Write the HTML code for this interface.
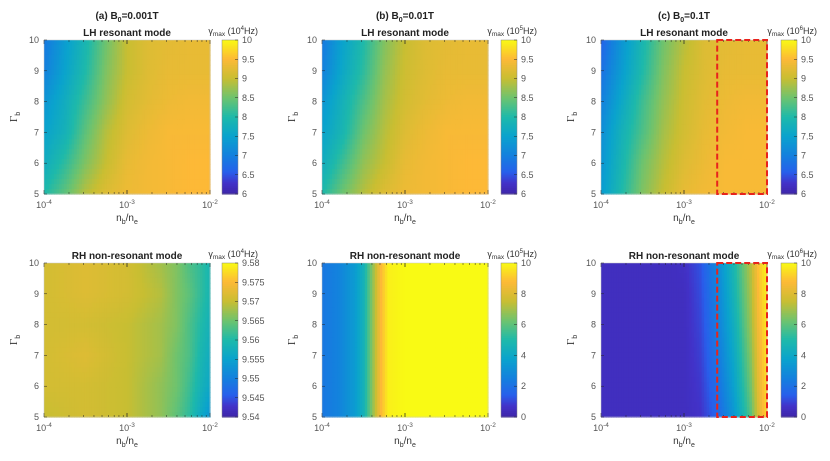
<!DOCTYPE html>
<html><head><meta charset="utf-8">
<style>
html,body{margin:0;padding:0;background:#fff;}
svg{display:block;font-family:"Liberation Sans",Arial,sans-serif;}
</style></head>
<body>
<svg id="fig" width="830" height="461" viewBox="0 0 830 461"></svg>
<script>
// ---- Data ----
const xTickExps = [-4, -3, -2];
const yTicks = [5, 6, 7, 8, 9, 10];
const gammaRows = [10, 9, 8, 7, 6, 5];
const topXs = [-4, -3.75, -3.5, -3.25, -3, -2.75, -2.5, -2.25, -2];
const valsA = [
 [6.9,7.4,7.9,8.5,9.0,9.2,9.25,9.3,9.3],
 [7.0,7.5,8.0,8.6,9.0,9.2,9.3,9.3,9.3],
 [7.3,7.7,8.2,8.7,9.1,9.25,9.35,9.4,9.4],
 [7.5,7.8,8.4,8.9,9.2,9.35,9.45,9.45,9.45],
 [7.7,8.1,8.6,9.0,9.3,9.4,9.45,9.5,9.5],
 [8.0,8.4,8.9,9.2,9.35,9.4,9.45,9.5,9.5]];
const valsB = [
 [6.9,7.5,8.0,8.6,9.0,9.2,9.25,9.3,9.3],
 [7.0,7.6,8.1,8.7,9.05,9.2,9.3,9.3,9.3],
 [7.3,7.8,8.3,8.8,9.1,9.25,9.35,9.4,9.4],
 [7.5,7.9,8.5,8.9,9.2,9.35,9.45,9.45,9.45],
 [7.7,8.2,8.7,9.0,9.3,9.4,9.45,9.5,9.5],
 [8.0,8.5,8.9,9.2,9.35,9.4,9.45,9.5,9.5]];
const valsC = [
 [6.6,7.3,7.9,8.5,8.9,9.2,9.25,9.3,9.3],
 [6.8,7.4,8.0,8.6,9.0,9.2,9.3,9.3,9.3],
 [7.0,7.6,8.2,8.7,9.05,9.25,9.35,9.4,9.4],
 [7.2,7.8,8.3,8.8,9.1,9.3,9.4,9.45,9.45],
 [7.3,7.9,8.5,8.9,9.2,9.35,9.45,9.45,9.45],
 [7.4,8.0,8.6,9.0,9.3,9.4,9.45,9.45,9.45]];
const botAXs = [-4, -3.5, -3, -2.6, -2.4, -2.25, -2.1, -2];
const valsD = [
 [9.571,9.572,9.571,9.568,9.566,9.563,9.561,9.559],
 [9.571,9.572,9.571,9.569,9.566,9.564,9.561,9.559],
 [9.571,9.571,9.570,9.568,9.566,9.563,9.560,9.558],
 [9.571,9.572,9.570,9.568,9.565,9.563,9.559,9.557],
 [9.571,9.571,9.570,9.567,9.565,9.562,9.558,9.556],
 [9.570,9.571,9.570,9.567,9.564,9.561,9.556,9.553]];
const botBXs = [-4, -3.8, -3.6, -3.5, -3.4, -3.3, -3.2, -3, -2];
const rowB = [2.2,2.6,3.5,4.5,6.5,8.6,9.8,10,10];
const valsE = [rowB,rowB,rowB,rowB,rowB,rowB];
const botCXs = [-4, -3.2, -3.0, -2.8, -2.6, -2.4, -2.2, -2.1, -2];
const valsF = [
 [0.5,0.5,0.6,1.2,2.8,4.8,7.2,9.0,9.9],
 [0.5,0.5,0.5,1.1,2.6,4.6,7.0,8.8,9.8],
 [0.5,0.5,0.5,1.0,2.4,4.3,6.8,8.6,9.7],
 [0.5,0.5,0.5,0.9,2.2,4.0,6.5,8.4,9.6],
 [0.5,0.5,0.5,0.8,1.9,3.7,6.2,8.2,9.5],
 [0.5,0.5,0.5,0.7,1.6,3.3,5.8,8.0,9.4]];
const cbTicksTop = [6,6.5,7,7.5,8,8.5,9,9.5,10];
const cbTicksD = [9.54,9.545,9.55,9.555,9.56,9.565,9.57,9.575,9.58];
const cbTicksEF = [0,2,4,6,8,10];

// ---- helpers ----
const NS = "http://www.w3.org/2000/svg";
const svg = document.getElementById('fig');
function mk(tag, attrs, parent){const e=document.createElementNS(NS,tag);for(const k in attrs)e.setAttribute(k,attrs[k]);(parent||svg).appendChild(e);return e;}
const stops=[[0,62,38,168],[.07,66,50,200],[.14,40,95,235],[.25,20,128,222],[.375,10,163,205],[.5,30,185,170],[.625,110,195,110],[.75,200,190,50],[.875,253,185,55],[1,249,250,20]];
function parula(t){t=Math.max(0,Math.min(1,t));for(let i=1;i<stops.length;i++){if(t<=stops[i][0]){const a=stops[i-1],b=stops[i],f=(t-a[0])/(b[0]-a[0]);return `rgb(${Math.round(a[1]+f*(b[1]-a[1]))},${Math.round(a[2]+f*(b[2]-a[2]))},${Math.round(a[3]+f*(b[3]-a[3]))})`;}}return 'rgb(249,250,20)';}
function interp1(xs, row, x){for(let i=1;i<xs.length;i++){if(x<=xs[i]){const f=(x-xs[i-1])/(xs[i]-xs[i-1]);return row[i-1]+f*(row[i]-row[i-1]);}}return row[row.length-1];}
function sampleGrid(xs, grid, x, g){
  let r=0; for(let i=1;i<gammaRows.length;i++){ if(g>=gammaRows[i]){r=i-1;break;} r=i-1;}
  const g0=gammaRows[r], g1=gammaRows[r+1]; const f=(g0-g)/(g0-g1);
  const a=interp1(xs,grid[r],x), b=interp1(xs,grid[r+1],x); return a+f*(b-a);
}
const sup = (b, e) => `<tspan>${b}</tspan><tspan dy="-4" font-size="6.5">${e}</tspan>`;

function panel(o){
  const {x0,y0,w,h,xs,grid,vmin,vmax,cbTicks,cbX,unitExp,name}=o;
  const g=mk('g',{});
  const sx=v=>x0+(v+4)/2*w, sy=v=>y0+(10-v)/5*h;
  const hm=mk('g',{},g);
  
  
  const NX=66, NY=31;
  for(let i=0;i<NX;i++)for(let j=0;j<NY;j++){
    const lx=-4+(i+0.5)/NX*2, gv=10-(j+0.5)/NY*5;
    const v=sampleGrid(xs,grid,lx,gv);
    const c=mk('rect',{x:(x0+i*w/NX).toFixed(2),y:(y0+j*h/NY).toFixed(2),width:(w/NX+0.6).toFixed(2),height:(h/NY+0.6).toFixed(2),fill:parula((v-vmin)/(vmax-vmin))},hm);
    
    
  }
  mk('rect',{x:x0,y:y0,width:w,height:h,fill:'none',stroke:'#c8c8c8','stroke-width':0.5},g);
  for(let d=-4; d<-2; d++) for(let m=1;m<=10;m++){
    const lx=d+Math.log10(m); if(lx>-2) continue;
    const X=sx(lx), L=(m===1||m===10)?4:2;
    mk('line',{x1:X,y1:y0+h,x2:X,y2:y0+h-L,stroke:'#262626','stroke-width':0.5},g);
    mk('line',{x1:X,y1:y0,x2:X,y2:y0+L,stroke:'#262626','stroke-width':0.5},g);
  }
  xTickExps.forEach(e=>{const t=mk('text',{x:sx(e),y:y0+h+14,'font-size':9,fill:'#555','text-anchor':'middle'},g);t.innerHTML=sup('10',e);
    });
  yTicks.forEach(v=>{const t=mk('text',{x:x0-5,y:sy(v)+3,'font-size':9,fill:'#555','text-anchor':'end'},g);t.textContent=v;
    
    mk('line',{x1:x0,y1:sy(v),x2:x0+3,y2:sy(v),stroke:'#262626','stroke-width':0.5},g);});
  const xl=mk('text',{x:x0+w/2,y:y0+h+27,'font-size':10,fill:'#333','text-anchor':'middle'},g);
  xl.innerHTML='n<tspan dy="3" font-size="7">b</tspan><tspan dy="-3">/n</tspan><tspan dy="3" font-size="7">e</tspan>';
  
  const yl=mk('text',{x:0,y:0,'font-size':11,fill:'#333','text-anchor':'middle',transform:`translate(${x0-27},${y0+h/2}) rotate(-90)`,'font-family':'Liberation Serif'},g);
  yl.innerHTML='Γ<tspan dy="3" font-size="7" font-family="Liberation Sans">b</tspan>';
  
  const st=mk('text',{x:x0+w/2,y:y0-4,'font-size':10,'font-weight':'bold',fill:'#222','text-anchor':'middle'},g);
  st.textContent=o.subtitle;
  if(o.title){const tt=mk('text',{x:x0+w/2,y:y0-21,'font-size':10,'font-weight':'bold',fill:'#222','text-anchor':'middle'},g);
    tt.innerHTML='(' + o.title[0] + ') B<tspan dy="3" font-size="7">0</tspan><tspan dy="-3">=' + o.title[1] + '</tspan>';
    }
  const cb=mk('g',{},g);
  const N=80;for(let k=0;k<N;k++){mk('rect',{x:cbX,y:(y0+k*h/N).toFixed(2),width:16,height:(h/N+0.6).toFixed(2),fill:parula(1-(k+0.5)/N)},cb);}
  mk('rect',{x:cbX,y:y0,width:16,height:h,fill:'none',stroke:'#888','stroke-width':0.5},cb);
  cbTicks.forEach(v=>{const Y=y0+(vmax-v)/(vmax-vmin)*h;
    mk('line',{x1:cbX+13,y1:Y,x2:cbX+16,y2:Y,stroke:'#262626','stroke-width':0.5},cb);
    const t=mk('text',{x:cbX+20,y:Y+3,'font-size':9,fill:'#555'},cb);t.textContent=v;
    });
  const cl=mk('text',{x:cbX+36,y:y0-6,'font-size':9,fill:'#333','text-anchor':'end'},cb);
  cl.innerHTML='γ<tspan dy="2" font-size="6.5">max</tspan><tspan dy="-2"> (10</tspan><tspan dy="-4" font-size="6">'+unitExp+'</tspan><tspan dy="4">Hz)</tspan>';
  
  if(o.box){const r=mk('rect',{x:sx(o.box),y:y0,width:sx(-2)-sx(o.box),height:h,fill:'none',stroke:'#e8231c','stroke-width':2,'stroke-dasharray':'6,3'},g);
    }
}
const W=166,H=154;
panel({name:'panel-a-lh',x0:44,y0:40,w:W,h:H,xs:topXs,grid:valsA,vmin:6,vmax:10,cbTicks:cbTicksTop,cbX:222,unitExp:4,subtitle:'LH resonant mode',title:['a','0.001T']});
panel({name:'panel-b-lh',x0:322,y0:40,w:W,h:H,xs:topXs,grid:valsB,vmin:6,vmax:10,cbTicks:cbTicksTop,cbX:501,unitExp:5,subtitle:'LH resonant mode',title:['b','0.01T']});
panel({name:'panel-c-lh',x0:601,y0:40,w:W,h:H,xs:topXs,grid:valsC,vmin:6,vmax:10,cbTicks:cbTicksTop,cbX:781,unitExp:6,subtitle:'LH resonant mode',title:['c','0.1T'],box:-2.6});
panel({name:'panel-a-rh',x0:44,y0:263,w:W,h:H,xs:botAXs,grid:valsD,vmin:9.54,vmax:9.58,cbTicks:cbTicksD,cbX:222,unitExp:4,subtitle:'RH non-resonant mode'});
panel({name:'panel-b-rh',x0:322,y0:263,w:W,h:H,xs:botBXs,grid:valsE,vmin:0,vmax:10,cbTicks:cbTicksEF,cbX:501,unitExp:5,subtitle:'RH non-resonant mode'});
panel({name:'panel-c-rh',x0:601,y0:263,w:W,h:H,xs:botCXs,grid:valsF,vmin:0,vmax:10,cbTicks:cbTicksEF,cbX:781,unitExp:6,subtitle:'RH non-resonant mode',box:-2.6});
</script>
</body></html>
